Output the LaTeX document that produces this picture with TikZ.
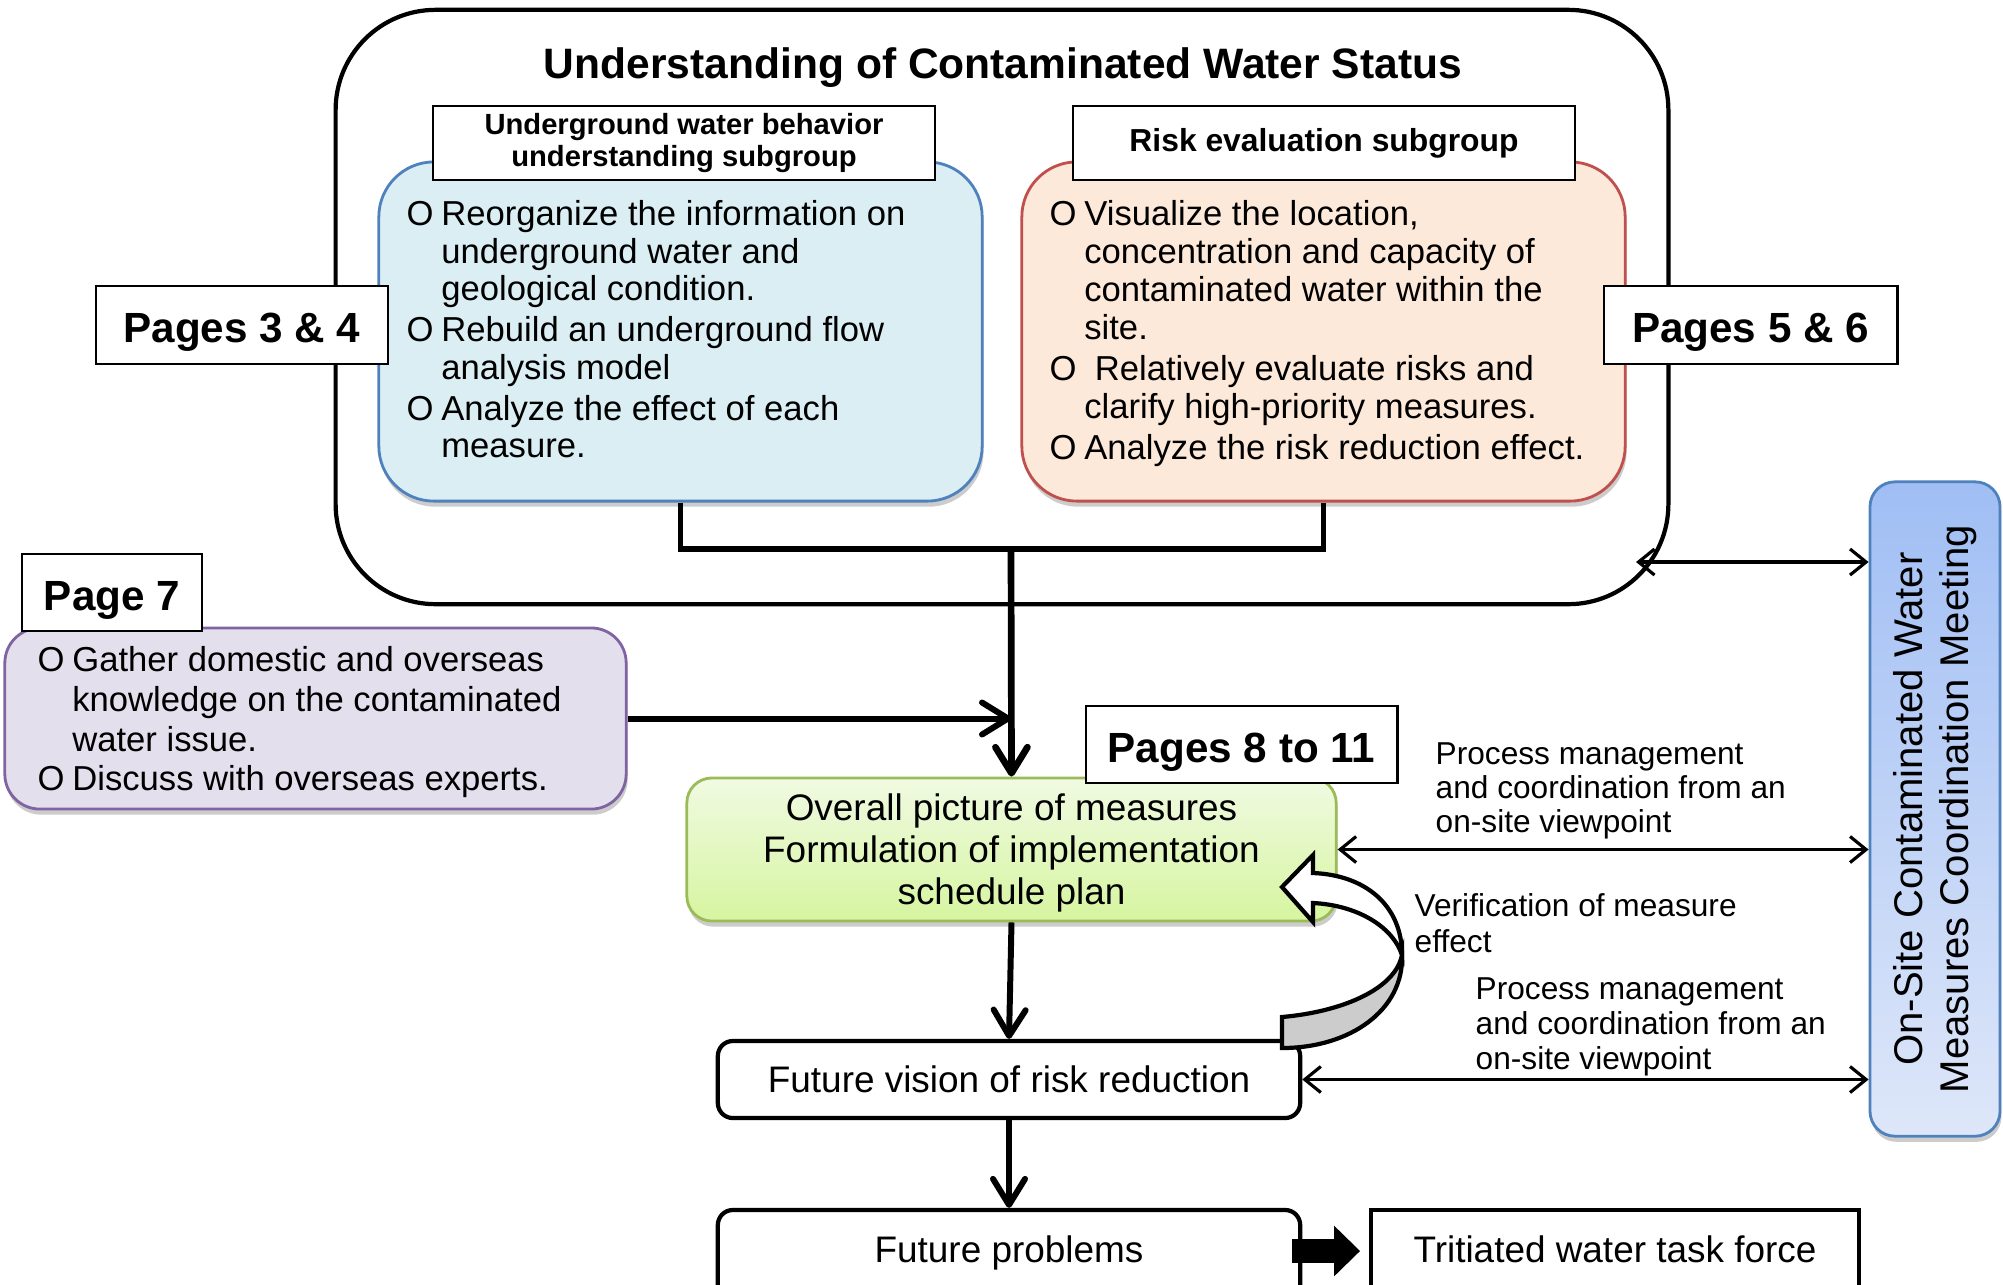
\documentclass[tikz,border=0pt]{standalone}
\usepackage{fontspec}
\setmainfont{Liberation Sans}
\usetikzlibrary{arrows.meta,shadows}

\definecolor{gwfill}{RGB}{218,238,243}
\definecolor{gwline}{RGB}{79,129,189}
\definecolor{riskfill}{RGB}{253,233,217}
\definecolor{riskline}{RGB}{192,80,77}
\definecolor{intlfill}{RGB}{228,223,236}
\definecolor{intlline}{RGB}{128,100,162}
\definecolor{plantop}{RGB}{240,250,226}
\definecolor{planbot}{RGB}{214,245,160}
\definecolor{planline}{RGB}{155,187,89}
\definecolor{sitetop}{RGB}{160,190,244}
\definecolor{sitebot}{RGB}{222,231,249}

\newcommand{\blt}{\makebox[1em][l]{O}}
\newcommand{\ind}{\hspace*{1em}}

\begin{document}
\begin{tikzpicture}[
		x=0.01cm, y=-0.01cm,
		pagebox/.style={
			draw,
			fill=white,
			line width=0.8pt,
			inner sep=0pt,
			text height=10pt,
			text depth=0pt,
			font=\fontsize{12}{14}\selectfont\bfseries
		},
		headbox/.style={
			draw,
			fill=white,
			line width=0.7pt,
			inner sep=0pt,
			minimum width=5.02cm,
			minimum height=0.74cm,
			align=center,
			font=\fontsize{8.3}{9.1}\selectfont\bfseries
		},
		groupbox/.style={
			draw,
			line width=0.8pt,
			rounded corners=0.55cm,
			minimum width=6.03cm,
			minimum height=3.39cm,
			drop shadow={shadow xshift=0.4pt, shadow yshift=-1.6pt, fill=black!40}
		},
		bullets/.style={
			anchor=north west,
			inner sep=0pt,
			align=left,
			font=\fontsize{9.85}{10.6}\selectfont
		},
		flowbox/.style={
			draw,
			fill=white,
			line width=1.2pt,
			rounded corners=0.15cm,
			minimum width=5.82cm,
			minimum height=0.77cm,
			font=\fontsize{10.5}{12}\selectfont
		},
		notes/.style={
			anchor=north west,
			inner sep=0pt,
			align=left,
			font=\fontsize{9}{9.7}\selectfont
		},
		bigarrow/.style={
			line width=1.7pt,
			-{Straight Barb[length=2.6mm, width=3.2mm, round]}
		},
		smallarrow/.style={
			line width=0.9pt,
			{Straight Barb[length=1.6mm, width=2.6mm]}-{Straight Barb[length=1.6mm, width=2.6mm]}
		}
		]
		
		\useasboundingbox (0,0) rectangle (2003,1284);
		
		\node[draw, line width=1.2pt, rounded corners=1cm, minimum width=13.32cm, minimum height=5.94cm] (status) at (1002,307) {};
		\node[font=\fontsize{12.1}{14}\selectfont\bfseries] (title) at (1003,68) {Understanding of Contaminated Water Status};
		
		\node[groupbox, draw=gwline, fill=gwfill] (gwbox) at (680.5,331.5) {};
		\node[groupbox, draw=riskline, fill=riskfill] (riskbox) at (1323.5,331.5) {};
		
		\node[headbox] (gwhead) at (684,143) {Underground water behavior\\understanding subgroup};
		\node[headbox, font=\fontsize{9.05}{10}\selectfont\bfseries] (riskhead) at (1324,143) {Risk evaluation subgroup};
		
		\node[bullets] (gwtext) at (406,200) {\blt Reorganize the information on\\
			\ind underground water and\\
			\ind geological condition.\\[1.2pt]
			\blt Rebuild an underground flow\\
			\ind analysis model\\[1.2pt]
			\blt Analyze the effect of each\\
			\ind measure.};
		\node[bullets, font=\fontsize{9.85}{10.75}\selectfont] (risktext) at (1049,200) {\blt Visualize the location,\\
			\ind concentration and capacity of\\
			\ind contaminated water within the\\
			\ind site.\\[1pt]
			\blt\hspace{3pt}Relatively evaluate risks and\\
			\ind clarify high-priority measures.\\[1pt]
			\blt Analyze the risk reduction effect.};
		
		\node[pagebox, minimum width=2.92cm, minimum height=0.78cm] (p34) at (242,325) {Pages 3 \& 4};
		\node[pagebox, minimum width=2.93cm, minimum height=0.78cm] (p56) at (1750.5,325) {Pages 5 \& 6};
		
		%Linhas
		\coordinate (join) at (1011,549);
		\draw[line width=1.6pt] (gwbox.south) |- (join) -| (riskbox.south);
		
		\node[draw=intlline, fill=intlfill, line width=0.8pt, rounded corners=0.35cm, minimum width=6.21cm, minimum height=1.81cm, drop shadow={shadow xshift=0.4pt, shadow yshift=-1.6pt, fill=black!40}] (intlbox) at (315.5,718.5) {};
		\node[bullets, font=\fontsize{9.85}{11.27}\selectfont] (intltext) at (37,646) {\blt Gather domestic and overseas\\
			\ind knowledge on the contaminated\\
			\ind water issue.\\
			\blt Discuss with overseas experts.};
		\node[pagebox, minimum width=1.8cm, minimum height=0.77cm] (p7) at (112,592.5) {Page 7};
		
		\node[draw=planline, top color=plantop, bottom color=planbot, line width=0.8pt, rounded corners=0.25cm, minimum width=6.49cm, minimum height=1.43cm, align=center, text depth=0pt, font=\fontsize{10.5}{11.95}\selectfont, drop shadow={shadow xshift=0.4pt, shadow yshift=-1.6pt, fill=black!40}] (plan) at (1011.5,849.5) {Overall picture of measures\\Formulation of implementation\\schedule plan};
		\node[pagebox, minimum width=3.11cm, minimum height=0.77cm] (p811) at (1241.5,744.5) {Pages 8 to 11};
		
		\draw[bigarrow, line width=1.9pt] (join) -- (plan.north);
		\draw[bigarrow] (intlbox.east) -- (intlbox.east -| join);
		
		\node[flowbox] (vision) at (1009,1079.5) {Future vision of risk reduction};
		\node[flowbox, minimum height=0.9cm, text depth=3.2pt] (problems) at (1009,1255) {Future problems};
		\node[draw, fill=white, line width=1pt, minimum width=4.88cm, minimum height=0.9cm, text depth=3.2pt, font=\fontsize{10.5}{12}\selectfont] (tritium) at (1615,1255) {Tritiated water task force};
		
		\draw[bigarrow] (plan.south) -- (vision.north);
		\draw[bigarrow] (vision.south) -- (problems.north);
		\draw[line width=7pt, -{Triangle[length=0.26cm, width=0.49cm]}] ([xshift=-0.1cm, yshift=0.04cm]problems.east) -- ([xshift=-0.09cm, yshift=0.04cm]tritium.west);
		
		% feedback arrow
		\filldraw[fill=black!20, line width=1.2pt] (1282,1017) .. controls (1340,1012) and (1395,990) .. (1402,955) .. controls (1404,1010) and (1350,1048) .. (1282,1048) -- cycle;
		\filldraw[fill=white, line width=1.2pt] (1402,955) .. controls (1402,905) and (1365,875) .. (1313,873) -- (1313,855) -- (1282,887) -- (1313,922) -- (1313,903) .. controls (1355,905) and (1392,925) .. (1402,955) -- cycle;
		
		\node[draw=gwline, top color=sitetop, bottom color=sitebot, line width=0.8pt, rounded corners=0.25cm, minimum width=1.3cm, minimum height=6.54cm, drop shadow={shadow xshift=0.4pt, shadow yshift=-1.6pt, fill=black!40}] (onsite) at (1935,809) {};
		\node[rotate=90, align=center, font=\fontsize{11.4}{12.9}\selectfont] (onsitetext) at (onsite.center) {On-Site Contaminated Water\\Measures Coordination Meeting};
		
		\coordinate (sitelink) at (1636,562);
		\draw[smallarrow] (sitelink) -- (sitelink -| onsite.west);
		\draw[smallarrow] (plan.east) -- (plan.east -| onsite.west);
		\draw[smallarrow] (vision.east) -- (vision.east -| onsite.west);
		
		\node[notes] (pm1) at (1435,742) {Process management\\and coordination from an\\on-site viewpoint};
		\node[notes, font=\fontsize{9}{10.2}\selectfont] (verif) at (1414,893) {Verification of measure\\effect};
		\node[notes, font=\fontsize{9}{10}\selectfont] (pm2) at (1475,977) {Process management\\and coordination from an\\on-site viewpoint};
		
	\end{tikzpicture}
\end{document}
